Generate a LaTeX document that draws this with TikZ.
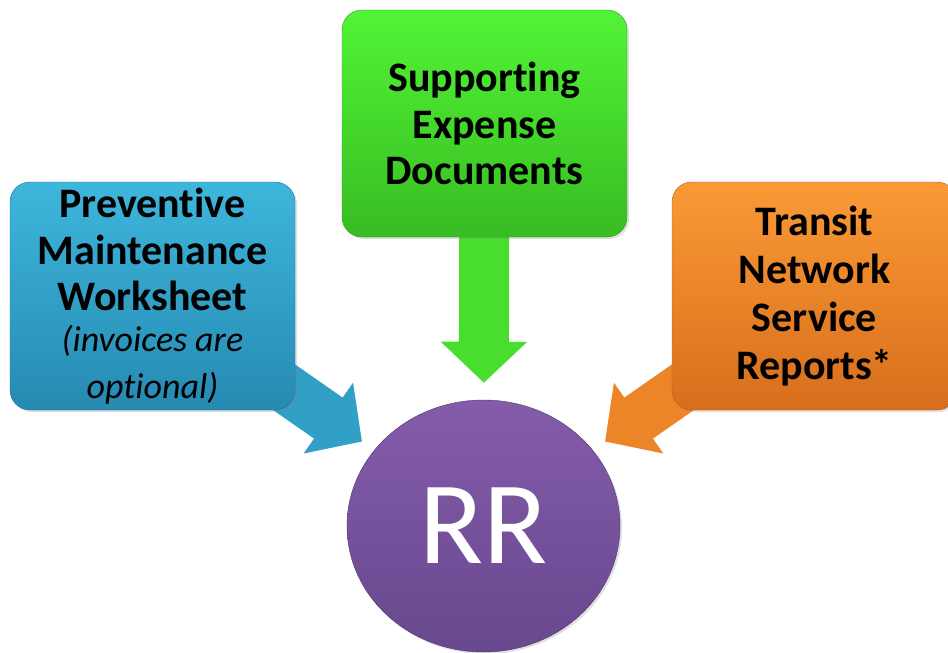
\documentclass[tikz,border=0pt]{standalone}
\usepackage{fontspec}
\setmainfont{Carlito}[RawFeature={-liga;-calt;-clig}]
\usetikzlibrary{shapes.geometric,arrows.meta,backgrounds,shadows}

\definecolor{pmTop}{RGB}{62,182,220}
\definecolor{pmBot}{RGB}{38,138,178}
\definecolor{pmArrow}{RGB}{48,160,198}
\definecolor{sedTop}{RGB}{82,244,54}
\definecolor{sedBot}{RGB}{56,188,34}
\definecolor{sedArrow}{RGB}{72,222,46}
\definecolor{tnTop}{RGB}{250,154,54}
\definecolor{tnBot}{RGB}{216,110,28}
\definecolor{tnArrow}{RGB}{236,132,40}
\definecolor{rrTop}{RGB}{132,92,170}
\definecolor{rrBot}{RGB}{104,72,142}

\begin{document}
\begin{tikzpicture}[x=1pt,y=-1pt,
		docbox/.style={rectangle,rounded corners=20pt,minimum width=285pt,minimum height=228pt,
			text width=280pt,align=center,inner sep=0pt,font=\fontsize{42}{46.5}\selectfont\bfseries,
			drop shadow={opacity=0.25,shadow xshift=2pt,shadow yshift=-2pt}},
		feed/.style={line width=50pt,-{Triangle[width=84pt,length=41pt]},shorten <=-40pt}]
	\useasboundingbox (0,0) rectangle (948,653);

	\node[docbox,top color=pmTop,bottom color=pmBot,draw=pmBot!85!black] (pm) at (152.5,296)
		{Preventive\\Maintenance\\Worksheet\\[2pt]\mdseries\itshape\fontsize{36}{39}\selectfont (invoices\hspace{8pt}are\\optional)};
	\node[docbox,top color=sedTop,bottom color=sedBot,draw=sedBot!85!black,minimum height=227pt] (sed) at (484.5,123.5)
		{Supporting\\Expense\\Documents};
	\node[docbox,top color=tnTop,bottom color=tnBot,draw=tnBot!85!black,font=\fontsize{42}{48}\selectfont\bfseries] (tn) at (814.5,296)
		{Transit\\Network\\Service\\Reports*};

	\node[ellipse,minimum width=273pt,minimum height=252pt,inner sep=0pt,top color=rrTop,bottom color=rrBot,
		draw=rrBot!75!black,text=white,font=\fontsize{118}{140}\selectfont,
		drop shadow={opacity=0.25,shadow xshift=2pt,shadow yshift=-2pt}] (rr) at (483.5,526) {RR};

	\begin{scope}[on background layer]
		\draw[feed,pmArrow,shorten >=15pt] (pm) -- (rr);
		\draw[feed,sedArrow,shorten >=17pt] (sed) -- (rr);
		\draw[feed,tnArrow,shorten >=15pt] (tn) -- (rr);
	\end{scope}
\end{tikzpicture}
\end{document}
